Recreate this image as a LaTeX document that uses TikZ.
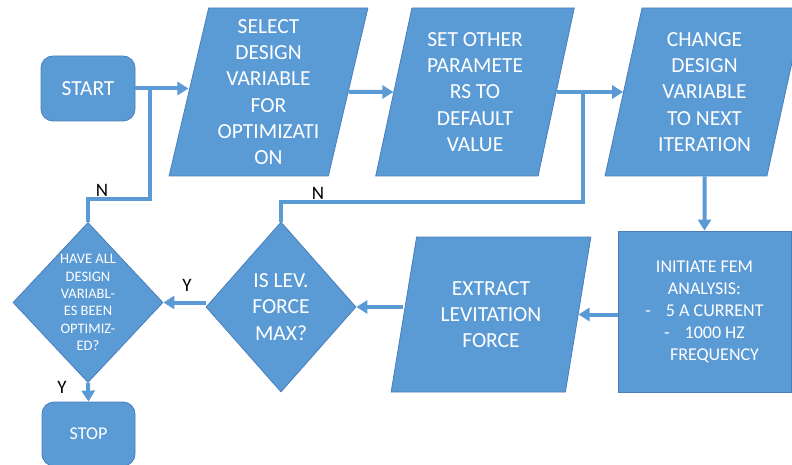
\documentclass[tikz,border=0pt]{standalone}
\usepackage{fontspec}
\setmainfont{Carlito}
\usetikzlibrary{shapes.geometric,arrows.meta,calc}
\definecolor{boxblue}{HTML}{5B9BD5}
\definecolor{edgeblue}{HTML}{4A7EBB}
\newcommand{\bigtext}{\fontsize{21.5}{26.3}\selectfont}
\newcommand{\smalltext}{\fontsize{14.5}{17.3}\selectfont}
\newcommand{\midtext}{\fontsize{18}{22}\selectfont}
\newcommand{\marktext}{\fontsize{19}{23}\selectfont}
\tikzset{
  shapebase/.style={fill=boxblue, draw=edgeblue, line width=0.8pt, inner sep=0pt},
  termbox/.style={shapebase, rectangle, rounded corners=12pt},
  iobox/.style={shapebase, trapezium, trapezium left angle=77,
    trapezium right angle=103, trapezium stretches=true,
    text=white, align=center, font=\bigtext},
  procbox/.style={shapebase, rectangle},
  decide/.style={shapebase, diamond},
  inside/.style={text=white, align=center, font=\bigtext, inner sep=0pt},
  flow/.style={draw=boxblue, line width=4pt},
  arr/.style={flow, -{Triangle[length=11pt,width=13pt]}},
  branch/.style={text=black, font=\marktext, inner sep=0pt}
}
\begin{document}
\begin{tikzpicture}[x=1pt,y=-1pt]
  \fill[white] (0,0) rectangle (792,465);
  \path[use as bounding box, clip] (0,0) rectangle (792,465);

  % flowchart blocks
  \node[termbox, minimum width=94pt, minimum height=65pt,
        label={[inside]center:START}] (start) at (88,88.5) {};
  \node[iobox, minimum width=199pt, minimum height=168pt] (sel) at (268.5,92)
        {SELECT\\DESIGN\\VARIABLE\\FOR\\OPTIMIZATI\\ON};
  \node[iobox, minimum width=199pt, minimum height=168pt] (set) at (475,92)
        {SET OTHER\\PARAMETE\\RS TO\\DEFAULT\\VALUE};
  \node[iobox, minimum width=199pt, minimum height=168pt] (chg) at (704.5,92)
        {CHANGE\\DESIGN\\VARIABLE\\TO NEXT\\ITERATION};
  \node[procbox, minimum width=173pt, minimum height=161pt,
        label={[inside, font=\midtext]center:INITIATE FEM\\ANALYSIS:\\-\hspace{15pt}5 A CURRENT\\-\hspace{15pt}1000 HZ\\\hspace*{20pt}FREQUENCY}] (fem) at (704.5,311.5) {};
  \node[iobox, trapezium left angle=75.5, trapezium right angle=104.5,
        minimum width=200pt, minimum height=155pt] (ext) at (491,314.5)
        {EXTRACT\\LEVITATION\\FORCE};
  \node[decide, minimum width=150pt, minimum height=170pt,
        label={[inside]center:IS LEV.\\FORCE\\MAX?}] (lev) at (281,307) {};
  \node[decide, minimum width=150pt, minimum height=160pt,
        label={[inside, font=\smalltext]center:HAVE ALL\\DESIGN\\VARIABL-\\ES BEEN\\OPTIMIZ-\\ED?}] (have) at (88,302.5) {};
  \node[termbox, minimum width=93pt, minimum height=64pt,
        label={[inside, font=\midtext]center:STOP}] (stop) at (88.5,434) {};

  % branch points on the upper arrows
  \coordinate (j1) at ($(start.east)+(15,0)$);
  \coordinate (j2) at ($(set.east)+(26,0)$);

  % connectors
  \draw[arr] (start.east) -- (sel.west |- start.east);
  \draw[arr] (sel.east) -- (set.west);
  \draw[arr] (set.east) -- (chg.west);
  \draw[arr] (chg.south) -- (fem.north);
  \draw[arr] (fem.west |- ext.east) -- (ext.east);
  \draw[arr] (ext.west |- lev.east) -- (lev.east);
  \draw[arr] (have.east -| lev.west) -- (have.east);
  \draw[arr] (have.south) -- (stop.north);
  \draw[flow] (have.north) -- ($(have.north)+(0,-23)$) -| (j1);
  \draw[flow] (lev.north) -- ($(lev.north)+(0,-20)$) -| (j2);

  % branch labels
  \node[branch] (n1) at (102,190) {N};
  \node[branch] (n2) at (318,193) {N};
  \node[branch] (y1) at (187,285) {Y};
  \node[branch] (y2) at (62,387) {Y};
\end{tikzpicture}
\end{document}
